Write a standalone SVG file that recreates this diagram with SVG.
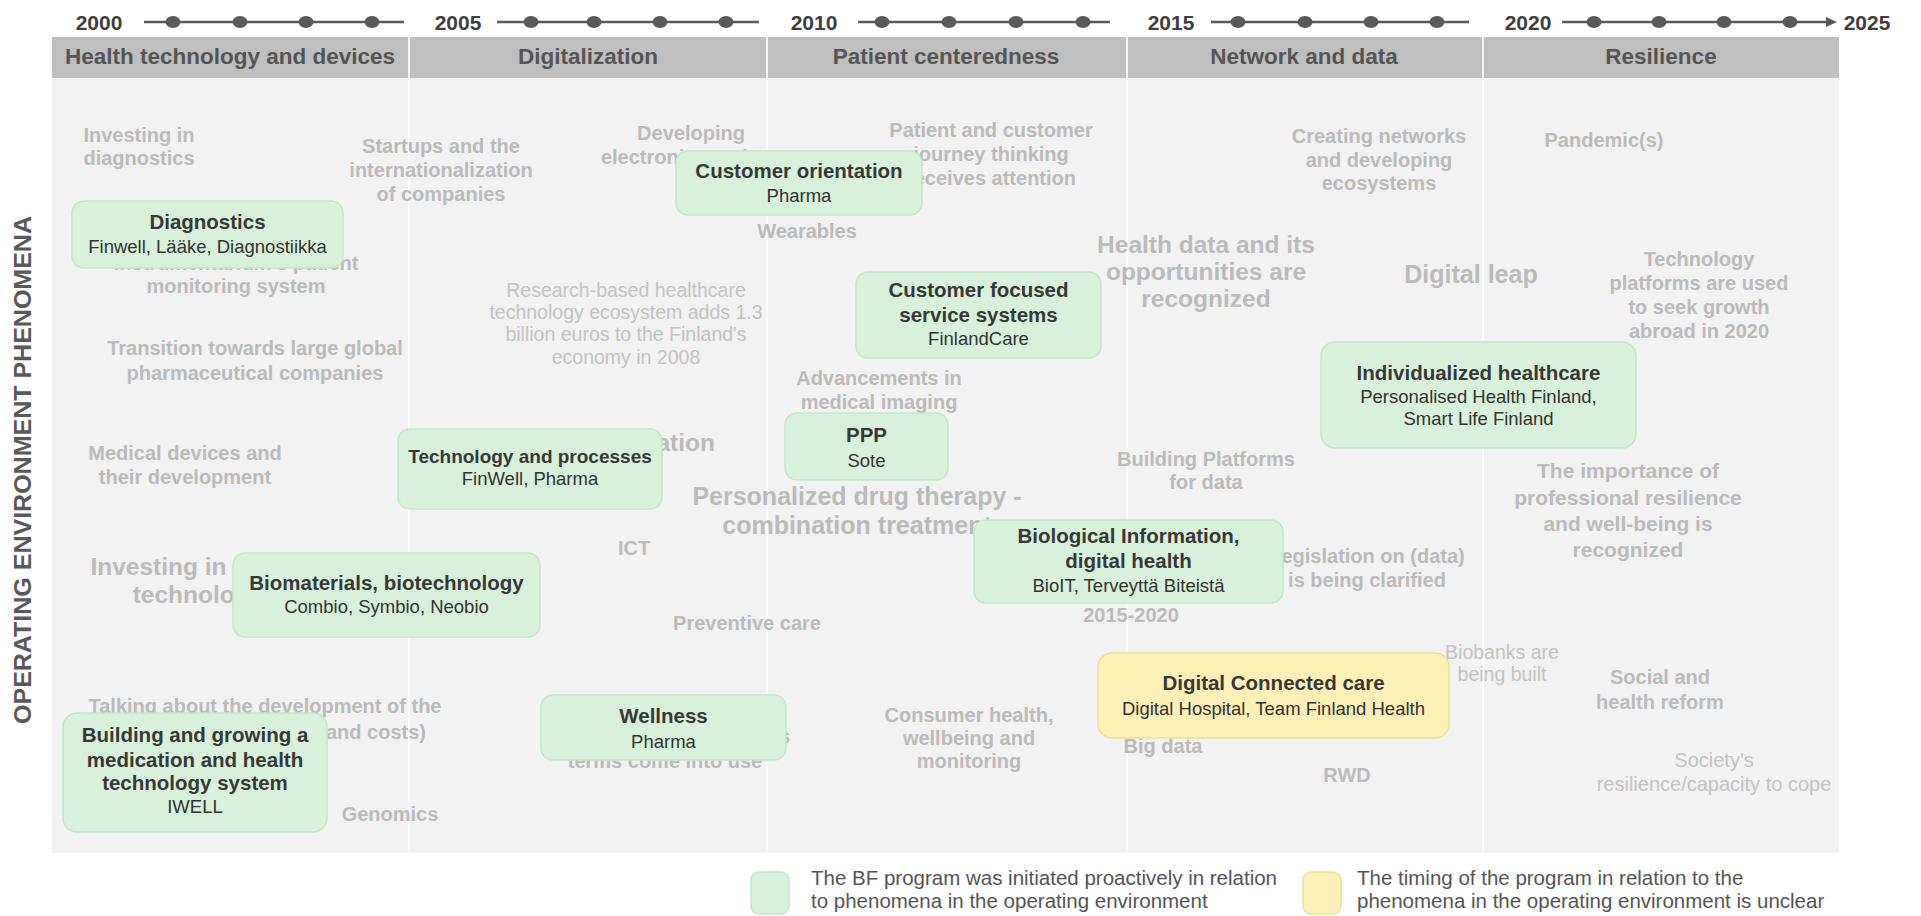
<svg xmlns="http://www.w3.org/2000/svg" width="1921" height="916" viewBox="0 0 1921 916">
<style>
text{font-family:"Liberation Sans",Arial,sans-serif}
.yr{font-weight:bold;font-size:21px;fill:#404040;text-anchor:middle}
.hdr{font-weight:bold;font-size:22.5px;fill:#555;text-anchor:middle}
.ph{font-weight:bold;font-size:20px;fill:#bbbbbb;text-anchor:middle}
.pl{font-weight:bold;font-size:24.5px;fill:#bbbbbb;text-anchor:middle}
.pr{font-size:19.5px;fill:#c4c4c4;text-anchor:middle}
.box{fill:#d8f1da;stroke:#c4e6c7;stroke-width:1.5}
.ybox{fill:#fcf0b6;stroke:#f0df9c;stroke-width:1.5}
.bt{font-weight:bold;font-size:20.5px;fill:#383838;text-anchor:middle}
.bs{font-size:18.5px;fill:#333;text-anchor:middle}
.lg{font-size:20.5px;fill:#555}
.tl{stroke:#595959;stroke-width:2.5;fill:none}
.dot{fill:#595959}
.side{font-weight:bold;font-size:24px;fill:#595959;text-anchor:middle}
</style>
<rect width="1921" height="916" fill="#ffffff"/>

<g id="timeline">
<text class="yr" x="99" y="29.5">2000</text>
<text class="yr" x="458" y="29.5">2005</text>
<text class="yr" x="814" y="29.5">2010</text>
<text class="yr" x="1171" y="29.5">2015</text>
<text class="yr" x="1528" y="29.5">2020</text>
<text class="yr" x="1867" y="29.5">2025</text>
<g id="connectors">
<line class="tl" x1="144" y1="22" x2="404" y2="22"/>
<line class="tl" x1="497" y1="22" x2="759" y2="22"/>
<line class="tl" x1="858" y1="22" x2="1110" y2="22"/>
<line class="tl" x1="1211" y1="22" x2="1469" y2="22"/>
<line class="tl" x1="1562" y1="22" x2="1828" y2="22"/>
<polygon points="1837,22 1826,17 1826,27" fill="#595959"/>
</g>
<g class="dot">
<ellipse cx="173" cy="22" rx="7.5" ry="6"/><ellipse cx="240" cy="22" rx="7.5" ry="6"/><ellipse cx="306" cy="22" rx="7.5" ry="6"/><ellipse cx="372" cy="22" rx="7.5" ry="6"/>
<ellipse cx="531" cy="22" rx="7.5" ry="6"/><ellipse cx="594" cy="22" rx="7.5" ry="6"/><ellipse cx="660" cy="22" rx="7.5" ry="6"/><ellipse cx="726" cy="22" rx="7.5" ry="6"/>
<ellipse cx="882" cy="22" rx="7.5" ry="6"/><ellipse cx="949" cy="22" rx="7.5" ry="6"/><ellipse cx="1016" cy="22" rx="7.5" ry="6"/><ellipse cx="1083" cy="22" rx="7.5" ry="6"/>
<ellipse cx="1238" cy="22" rx="7.5" ry="6"/><ellipse cx="1305" cy="22" rx="7.5" ry="6"/><ellipse cx="1371" cy="22" rx="7.5" ry="6"/><ellipse cx="1437" cy="22" rx="7.5" ry="6"/>
<ellipse cx="1594" cy="22" rx="7.5" ry="6"/><ellipse cx="1659" cy="22" rx="7.5" ry="6"/><ellipse cx="1724" cy="22" rx="7.5" ry="6"/><ellipse cx="1790" cy="22" rx="7.5" ry="6"/>
</g>
</g>

<g id="header">
<rect x="52" y="37" width="1787" height="41" fill="#bfbfbf"/>
<g stroke="#f4f4f4" stroke-width="2">
<line x1="409" y1="37" x2="409" y2="853"/>
<line x1="767" y1="37" x2="767" y2="853"/>
<line x1="1127" y1="37" x2="1127" y2="853"/>
<line x1="1483" y1="37" x2="1483" y2="853"/>
</g>
<text class="hdr" x="230" y="64">Health technology and devices</text>
<text class="hdr" x="588" y="64">Digitalization</text>
<text class="hdr" x="946" y="64">Patient centeredness</text>
<text class="hdr" x="1304" y="64">Network and data</text>
<text class="hdr" x="1661" y="64">Resilience</text>
</g>

<g id="panel">
<rect x="52" y="78" width="1787" height="775" fill="#f2f2f2"/>
<g stroke="#fafafa" stroke-width="2">
<line x1="409" y1="78" x2="409" y2="853"/>
<line x1="767" y1="78" x2="767" y2="853"/>
<line x1="1127" y1="78" x2="1127" y2="853"/>
<line x1="1483" y1="78" x2="1483" y2="853"/>
</g>
</g>

<text class="side" transform="translate(31,470) rotate(-90)" textLength="508" lengthAdjust="spacingAndGlyphs">OPERATING ENVIRONMENT PHENOMENA</text>

<g id="phenomena">
<g id="p-investing-diagnostics"><text class="ph" x="139" y="142">Investing in</text><text class="ph" x="139" y="165">diagnostics</text></g>
<g id="p-instrumentarium"><text class="ph" x="236" y="270">Instrumentarium's patient</text><text class="ph" x="236" y="293">monitoring system</text></g>
<g id="p-transition"><text class="ph" x="255" y="355">Transition towards large global</text><text class="ph" x="255" y="380">pharmaceutical companies</text></g>
<g id="p-medical-devices"><text class="ph" x="185" y="460">Medical devices and</text><text class="ph" x="185" y="484">their development</text></g>
<g id="p-investing-tech"><text class="pl" x="198" y="575">Investing in health</text><text class="pl" x="198" y="603">technology</text></g>
<g id="p-talking"><text class="ph" x="265" y="713">Talking about the development of the</text><text class="ph" x="426" y="739" style="text-anchor:end">medicine system (prices and costs)</text></g>
<g id="p-genomics"><text class="ph" x="390" y="821">Genomics</text></g>
<g id="p-startups"><text class="ph" x="441" y="153">Startups and the</text><text class="ph" x="441" y="177">internationalization</text><text class="ph" x="441" y="201">of companies</text></g>
<g id="p-developing"><text class="ph" x="691" y="140">Developing</text><text class="ph" x="691" y="164">electronic services</text></g>
<g id="p-research"><text class="pr" x="626" y="297">Research-based healthcare</text><text class="pr" x="626" y="319">technology ecosystem adds 1.3</text><text class="pr" x="626" y="341">billion euros to the Finland's</text><text class="pr" x="626" y="364">economy in 2008</text></g>
<g id="p-globalization"><text class="pl" x="715" y="451" style="text-anchor:end">Globalization</text></g>
<g id="p-ict"><text class="ph" x="634" y="555">ICT</text></g>
<g id="p-preventive"><text class="ph" x="747" y="630">Preventive care</text></g>
<g id="p-wellness-terms"><text class="ph" x="790" y="743" style="text-anchor:end">eHealth and wellness</text><text class="ph" x="665" y="768">terms come into use</text></g>
<g id="p-patient-journey"><text class="ph" x="991" y="137">Patient and customer</text><text class="ph" x="991" y="161">journey thinking</text><text class="ph" x="991" y="185">receives attention</text></g>
<g id="p-wearables"><text class="ph" x="807" y="238">Wearables</text></g>
<g id="p-advancements"><text class="ph" x="879" y="385">Advancements in</text><text class="ph" x="879" y="409">medical imaging</text></g>
<g id="p-personalized"><text class="pl" x="857" y="505" style="font-size:25px">Personalized drug therapy -</text><text class="pl" x="857" y="534" style="font-size:25px">combination treatment</text></g>
<g id="p-consumer"><text class="ph" x="969" y="722">Consumer health,</text><text class="ph" x="969" y="745">wellbeing and</text><text class="ph" x="969" y="768">monitoring</text></g>
<g id="p-health-data"><text class="pl" x="1206" y="253">Health data and its</text><text class="pl" x="1206" y="280">opportunities are</text><text class="pl" x="1206" y="307">recognized</text></g>
<g id="p-creating-networks"><text class="ph" x="1379" y="143">Creating networks</text><text class="ph" x="1379" y="167">and developing</text><text class="ph" x="1379" y="190">ecosystems</text></g>
<g id="p-digital-leap"><text class="pl" x="1471" y="283" style="font-size:25px">Digital leap</text></g>
<g id="p-building-platforms"><text class="ph" x="1206" y="466">Building Platforms</text><text class="ph" x="1206" y="489">for data</text></g>
<g id="p-legislation"><text class="ph" x="1367" y="563">Legislation on (data)</text><text class="ph" x="1367" y="587">is being clarified</text></g>
<g id="p-period"><text class="ph" x="1131" y="622">2015-2020</text></g>
<g id="p-big-data"><text class="ph" x="1163" y="753">Big data</text></g>
<g id="p-rwd"><text class="ph" x="1347" y="782">RWD</text></g>
<g id="p-biobanks"><text class="pr" x="1502" y="659">Biobanks are</text><text class="pr" x="1502" y="681">being built</text></g>
<g id="p-pandemic"><text class="ph" x="1604" y="147">Pandemic(s)</text></g>
<g id="p-tech-platforms"><text class="ph" x="1699" y="266">Technology</text><text class="ph" x="1699" y="290">platforms are used</text><text class="ph" x="1699" y="314">to seek growth</text><text class="ph" x="1699" y="338">abroad in 2020</text></g>
<g id="p-professional"><text class="ph" x="1628" y="478" style="font-size:21px">The importance of</text><text class="ph" x="1628" y="505" style="font-size:21px">professional resilience</text><text class="ph" x="1628" y="531" style="font-size:21px">and well-being is</text><text class="ph" x="1628" y="557" style="font-size:21px">recognized</text></g>
<g id="p-social"><text class="ph" x="1660" y="684">Social and</text><text class="ph" x="1660" y="709">health reform</text></g>
<g id="p-society"><text class="pr" x="1714" y="767" style="font-size:20px">Society's</text><text class="pr" x="1714" y="791" style="font-size:20px">resilience/capacity to cope</text></g>
</g>

<g id="programs">
<g id="n-diagnostics"><rect class="box" x="72" y="201" width="271" height="67" rx="12"/><text class="bt" x="207.5" y="229">Diagnostics</text><text class="bs" x="207.5" y="253">Finwell, Lääke, Diagnostiikka</text></g>
<g id="n-customer-orientation"><rect class="box" x="676" y="151" width="246" height="64" rx="12"/><text class="bt" x="799" y="178">Customer orientation</text><text class="bs" x="799" y="202">Pharma</text></g>
<g id="n-customer-focused"><rect class="box" x="856" y="272" width="245" height="86" rx="12"/><text class="bt" x="978.5" y="297">Customer focused</text><text class="bt" x="978.5" y="322">service systems</text><text class="bs" x="978.5" y="345">FinlandCare</text></g>
<g id="n-individualized"><rect class="box" x="1321" y="342" width="315" height="106" rx="14"/><text class="bt" x="1478.5" y="380">Individualized healthcare</text><text class="bs" x="1478.5" y="403">Personalised Health Finland,</text><text class="bs" x="1478.5" y="425">Smart Life Finland</text></g>
<g id="n-technology-processes"><rect class="box" x="398" y="429" width="264" height="80" rx="12"/><text class="bt" x="530" y="463" style="font-size:19px">Technology and processes</text><text class="bs" x="530" y="485">FinWell, Pharma</text></g>
<g id="n-ppp"><rect class="box" x="785" y="413" width="163" height="67" rx="12"/><text class="bt" x="866.5" y="442">PPP</text><text class="bs" x="866.5" y="467">Sote</text></g>
<g id="n-biological"><rect class="box" x="974" y="520" width="309" height="83" rx="12"/><text class="bt" x="1128.5" y="543">Biological Information,</text><text class="bt" x="1128.5" y="568">digital health</text><text class="bs" x="1128.5" y="592">BioIT, Terveyttä Biteistä</text></g>
<g id="n-biomaterials"><rect class="box" x="233" y="553" width="307" height="84" rx="12"/><text class="bt" x="386.5" y="590">Biomaterials, biotechnology</text><text class="bs" x="386.5" y="613">Combio, Symbio, Neobio</text></g>
<g id="n-digital-connected"><rect class="ybox" x="1098" y="653" width="351" height="85" rx="14"/><text class="bt" x="1273.5" y="690">Digital Connected care</text><text class="bs" x="1273.5" y="715">Digital Hospital, Team Finland Health</text></g>
<g id="n-wellness"><rect class="box" x="541" y="695" width="245" height="65" rx="12"/><text class="bt" x="663.5" y="723">Wellness</text><text class="bs" x="663.5" y="748">Pharma</text></g>
<g id="n-building"><rect class="box" x="63" y="713" width="264" height="119" rx="14"/><text class="bt" x="195" y="742">Building and growing a</text><text class="bt" x="195" y="767">medication and health</text><text class="bt" x="195" y="790">technology system</text><text class="bs" x="195" y="813">IWELL</text></g>
</g>

<g id="legend">
<g id="legend-green"><rect class="box" x="751" y="872" width="38" height="42" rx="8"/><text class="lg" x="811" y="885">The BF program was initiated proactively in relation</text><text class="lg" x="811" y="908">to phenomena in the operating environment</text></g>
<g id="legend-yellow"><rect class="ybox" x="1303" y="872" width="38" height="42" rx="8"/><text class="lg" x="1357" y="885">The timing of the program in relation to the</text><text class="lg" x="1357" y="908">phenomena in the operating environment is unclear</text></g>
</g>
</svg>
